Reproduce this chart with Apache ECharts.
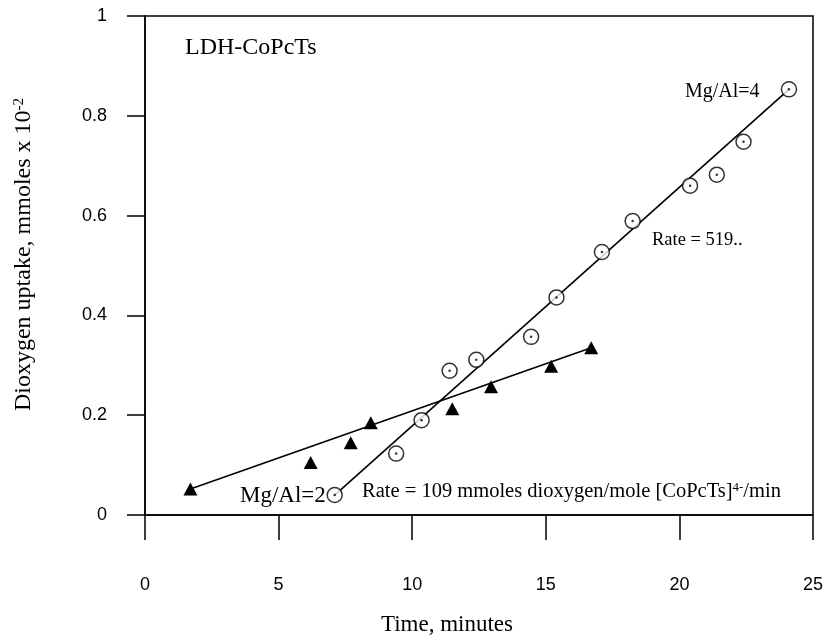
<!DOCTYPE html>
<html>
<head>
<meta charset="utf-8">
<script src="https://cdn.jsdelivr.net/npm/echarts@6/dist/echarts.min.js"></script>
<style>
  html, body { margin: 0; padding: 0; background: #fff; }
  #chartDiv { width: 827px; height: 641px; }
</style>
</head>
<body>
<div id="chartDiv"></div>
<script>
// Mg/Al=4 (open circles with dot)
var mg4X = [7.1, 9.4, 10.35, 11.4, 12.4, 14.45, 15.4, 17.1, 18.25, 20.4, 21.4, 22.4, 24.1];
var mg4Y = [0.04, 0.123, 0.19, 0.289, 0.311, 0.357, 0.436, 0.527, 0.589, 0.66, 0.682, 0.748, 0.853];
// Mg/Al=2 (filled triangles)
var mg2X = [1.7, 6.2, 7.7, 8.45, 11.5, 12.95, 15.2, 16.7];
var mg2Y = [0.052, 0.105, 0.145, 0.185, 0.213, 0.257, 0.298, 0.335];
// fitted lines, end points
var fit4X = [7.1, 24.1];
var fit4Y = [0.04, 0.853];
var fit2X = [1.7, 16.7];
var fit2Y = [0.052, 0.335];

var xTicks = [0, 5, 10, 15, 20, 25];
var yTicks = [0, 0.2, 0.4, 0.6, 0.8, 1];

function pairs(xs, ys) {
    var out = [];
    for (var i = 0; i < xs.length; i++) out.push([xs[i], ys[i]]);
    return out;
}

var serif = 'Liberation Serif';
var sans = 'Liberation Sans';

var myChart = echarts.init(document.getElementById('chartDiv'));
var option = {
    backgroundColor: '#fff',
    animation: false,
    grid: {
        left: 145,
        right: 14,
        top: 16,
        bottom: 123,
        show: true,
        borderColor: '#000',
        borderWidth: 1.5
    },
    xAxis: {
        type: 'value',
        min: xTicks[0],
        max: xTicks[xTicks.length - 1],
        interval: 5,
        name: 'Time, minutes',
        nameLocation: 'middle',
        nameGap: 98,
        nameTextStyle: { fontFamily: serif, fontSize: 23, color: '#000', padding: [0, 64, 0, 0] },
        splitLine: { show: false },
        axisLine: { lineStyle: { color: '#000', width: 1.5 } },
        axisTick: { length: 25, lineStyle: { color: '#000', width: 1.5 } },
        axisLabel: { margin: 61, fontFamily: sans, fontSize: 18, color: '#000' }
    },
    yAxis: {
        type: 'value',
        min: yTicks[0],
        max: yTicks[yTicks.length - 1],
        interval: 0.2,
        name: 'Dioxygen uptake, mmoles x 10{sup|-2}',
        nameLocation: 'middle',
        nameGap: 109,
        nameTextStyle: {
            fontFamily: serif, fontSize: 24, color: '#000', padding: [0, 0, 0, 22],
            rich: { sup: { fontFamily: serif, fontSize: 15, color: '#000', verticalAlign: 'top' } }
        },
        splitLine: { show: false },
        axisLine: { lineStyle: { color: '#000', width: 1.5 } },
        axisTick: { length: 18, lineStyle: { color: '#000', width: 1.5 } },
        axisLabel: { margin: 38, fontFamily: sans, fontSize: 18, color: '#000' }
    },
    series: [
        {
            name: 'fit4',
            type: 'line',
            data: pairs(fit4X, fit4Y),
            symbol: 'none',
            lineStyle: { color: '#000', width: 1.6 },
            z: 1
        },
        {
            name: 'fit2',
            type: 'line',
            data: pairs(fit2X, fit2Y),
            symbol: 'none',
            lineStyle: { color: '#000', width: 1.6 },
            z: 1
        },
        {
            name: 'Mg/Al=4',
            type: 'scatter',
            data: pairs(mg4X, mg4Y),
            symbol: 'circle',
            symbolSize: 15,
            itemStyle: { color: '#fff', borderColor: '#000', borderWidth: 1.5 },
            z: 3
        },
        {
            name: 'Mg/Al=4 dot',
            type: 'scatter',
            data: pairs(mg4X, mg4Y),
            symbol: 'circle',
            symbolSize: 2.5,
            itemStyle: { color: '#000' },
            z: 4
        },
        {
            name: 'Mg/Al=2',
            type: 'scatter',
            data: pairs(mg2X, mg2Y),
            symbol: 'triangle',
            symbolSize: [14, 13],
            itemStyle: { color: '#000', opacity: 1 },
            z: 3
        }
    ],
    graphic: [
        { type: 'text', left: 185, top: 36, style: { text: 'LDH-CoPcTs', font: '24px "' + serif + '"', fill: '#000' } },
        { type: 'text', left: 685, top: 82, style: { text: 'Mg/Al=4', font: '20px "' + serif + '"', fill: '#000' } },
        { type: 'text', left: 652, top: 231, style: { text: 'Rate = 519..', font: '18.5px "' + serif + '"', fill: '#000' } },
        { type: 'text', left: 240, top: 484, style: { text: 'Mg/Al=2', font: '23px "' + serif + '"', fill: '#000' } },
        {
            type: 'text', left: 362, top: 481,
            style: {
                text: 'Rate = 109 mmoles dioxygen/mole [CoPcTs]{sup|4-}/min',
                font: '20.5px "' + serif + '"',
                fill: '#000',
                rich: { sup: { fontFamily: serif, fontSize: 13, fill: '#000', verticalAlign: 'top' } }
            }
        }
    ]
};
myChart.setOption(option);
</script>
</body>
</html>
